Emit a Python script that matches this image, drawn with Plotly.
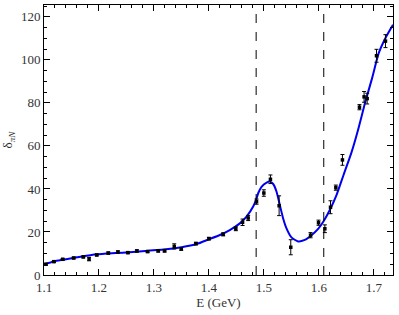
import plotly.graph_objects as go

# Data points (E in GeV, delta in degrees, error)
E_data = [1.1036, 1.118, 1.134, 1.154, 1.1715, 1.182, 1.196, 1.217, 1.2345, 1.2527,
          1.269, 1.2885, 1.3078, 1.3194, 1.337, 1.3497, 1.3764, 1.400, 1.426, 1.449,
          1.4613, 1.4715, 1.4867, 1.500, 1.512, 1.5278, 1.549, 1.585, 1.5995, 1.611,
          1.6213, 1.631, 1.643, 1.674, 1.6824, 1.688, 1.705, 1.7213]
delta_data = [5.0, 6.2, 7.3, 7.9, 8.4, 7.4, 9.3, 10.2, 10.7, 10.4,
              11.2, 10.9, 11.2, 11.2, 13.3, 12.1, 14.6, 16.9, 18.9, 21.5,
              24.5, 26.5, 34.1, 38.1, 44.5, 32.2, 12.9, 18.5, 24.3, 21.5,
              31.5, 40.6, 53.5, 78.0, 82.8, 82.0, 101.9, 108.7]
delta_err = [0.4, 0.4, 0.4, 0.4, 0.4, 0.8, 0.4, 0.5, 0.5, 0.5,
             0.5, 0.5, 0.5, 0.5, 1.2, 0.6, 0.6, 0.6, 0.7, 0.9,
             1.5, 1.2, 1.2, 1.5, 2.0, 4.6, 3.5, 1.2, 1.2, 1.8,
             3.0, 1.2, 2.5, 1.2, 2.5, 2.5, 3.0, 3.0]

# Fit curve
E_fit = [1.100, 1.118, 1.135, 1.160, 1.196, 1.230, 1.256, 1.290, 1.317, 1.350,
         1.378, 1.400, 1.420, 1.438, 1.4564, 1.4685, 1.4806, 1.4860, 1.4897, 1.4958,
         1.505, 1.511, 1.517, 1.523, 1.529, 1.535, 1.5412, 1.5503, 1.5624, 1.5745,
         1.5867, 1.5988, 1.609, 1.620, 1.632, 1.645, 1.6595, 1.672, 1.684, 1.697,
         1.709, 1.722, 1.735]
delta_fit = [5.0, 6.3, 7.1, 8.2, 9.6, 10.2, 10.6, 11.3, 11.8, 12.9,
             14.4, 16.6, 18.6, 20.9, 24.0, 27.1, 31.8, 35.0, 38.0, 41.0,
             42.9, 43.4, 42.3, 38.8, 32.6, 26.4, 21.7, 17.5, 15.6, 16.3,
             18.5, 21.4, 25.1, 30.2, 37.0, 46.5, 57.0, 68.0, 79.9, 91.5,
             103.1, 110.5, 116.3]

thresholds = [1.486, 1.609]

x_ticks = [1.1, 1.2, 1.3, 1.4, 1.5, 1.6, 1.7]
y_ticks = [0, 20, 40, 60, 80, 100, 120]

fig = go.Figure()
fig.add_trace(go.Scatter(
    x=E_fit, y=delta_fit, mode="lines",
    line=dict(color="#0000ee", width=2, shape="spline", smoothing=0.6),
    showlegend=False, hoverinfo="skip"))
fig.add_trace(go.Scatter(
    x=E_data, y=delta_data, mode="markers",
    marker=dict(color="black", size=3.5, symbol="square"),
    error_y=dict(type="data", array=delta_err, color="black", thickness=1, width=2),
    showlegend=False))

for t in thresholds:
    fig.add_shape(type="line", x0=t, x1=t, y0=0, y1=1, yref="paper", xref="x",
                  line=dict(color="black", width=1, dash="dash"))

font_family = "Times New Roman, Liberation Serif, serif"
axis_common = dict(showline=True, linecolor="black", linewidth=1, mirror="ticks",
                   ticks="inside", ticklen=6, tickcolor="black", showgrid=False,
                   zeroline=False, automargin=False,
                   tickfont=dict(family=font_family, size=13, color="#333"))

fig.update_xaxes(range=[1.1, 1.735], tickvals=x_ticks,
                 ticktext=[f"{v:.1f}" for v in x_ticks],
                 minor=dict(dtick=0.02, tick0=1.1, ticks="inside", ticklen=3, tickcolor="black"),
                 title=dict(text="E (GeV)", font=dict(family=font_family, size=13, color="#333"),
                            standoff=2),
                 **axis_common)
fig.update_yaxes(range=[0, 125.5], tickvals=y_ticks,
                 minor=dict(dtick=5, tick0=0, ticks="inside", ticklen=3, tickcolor="black"),
                 title=dict(text="δ<sub><i>πN</i></sub>", font=dict(family=font_family, size=13, color="#333"),
                            standoff=6),
                 **axis_common)

fig.update_layout(width=399, height=315, plot_bgcolor="white", paper_bgcolor="white",
                  margin=dict(l=44, r=6, t=5, b=40),
                  font=dict(family=font_family))

fig.write_html("out.html", config={"displayModeBar": False},
               post_script="document.body.style.margin='0';document.body.style.padding='0';")
